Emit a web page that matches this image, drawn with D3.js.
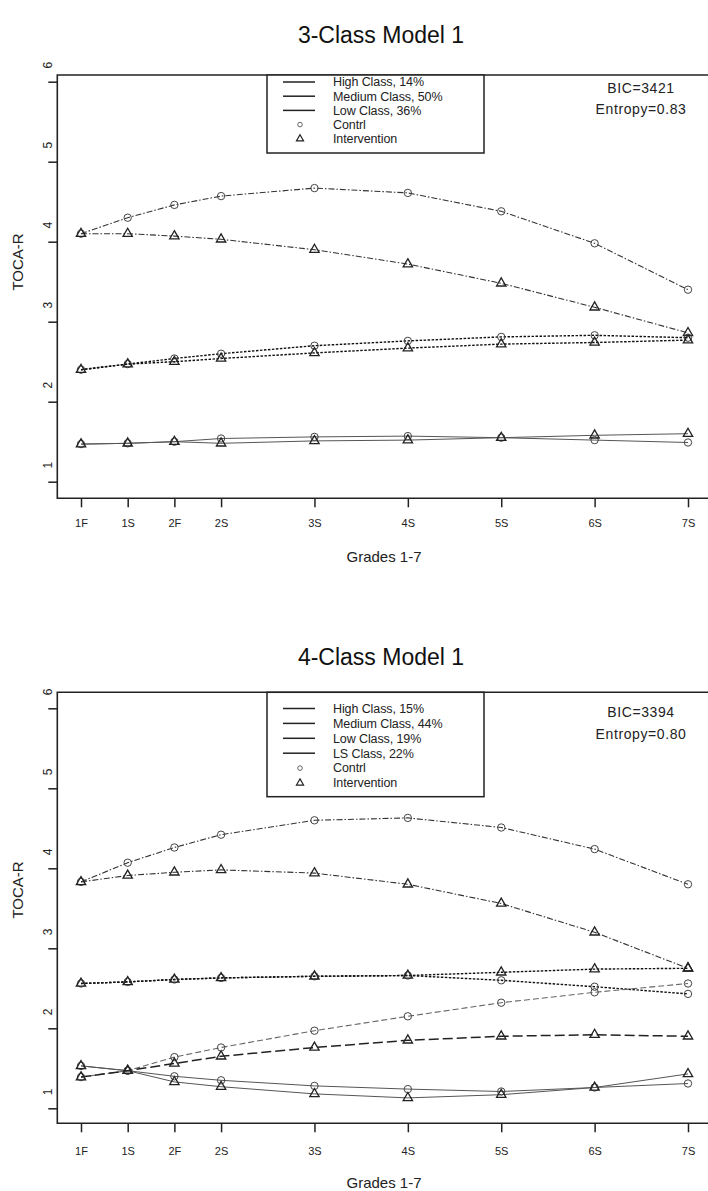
<!DOCTYPE html>
<html>
<head>
<meta charset="utf-8">
<script src="https://cdn.jsdelivr.net/npm/d3@7/dist/d3.min.js"></script>
<style>
  html, body { margin: 0; padding: 0; background: #ffffff; }
  svg { display: block; font-family: "Liberation Sans", Arial, sans-serif; }
</style>
</head>
<body>
<svg id="chart" width="708" height="1191"></svg>
<script>
// ---------------- DATA ----------------
const grades = ["1F", "1S", "2F", "2S", "3S", "4S", "5S", "6S", "7S"];
const gradeTimes = [0, 0.5, 1, 1.5, 2.5, 3.5, 4.5, 5.5, 6.5];
const yTicks = [1, 2, 3, 4, 5, 6];

// 3-Class Model 1
const m3Title = "3-Class Model 1";
const m3Classes = ["High Class, 14%", "Medium Class, 50%", "Low Class, 36%"];
const m3Stats = ["BIC=3421", "Entropy=0.83"];
const m3HighControl        = [4.10, 4.30, 4.46, 4.57, 4.67, 4.61, 4.38, 3.98, 3.40];
const m3HighIntervention   = [4.10, 4.10, 4.07, 4.03, 3.90, 3.72, 3.48, 3.18, 2.86];
const m3MediumControl      = [2.40, 2.47, 2.54, 2.60, 2.70, 2.76, 2.81, 2.83, 2.80];
const m3MediumIntervention = [2.40, 2.47, 2.50, 2.54, 2.61, 2.67, 2.72, 2.74, 2.77];
const m3LowControl         = [1.47, 1.48, 1.50, 1.54, 1.56, 1.57, 1.55, 1.52, 1.49];
const m3LowIntervention    = [1.47, 1.48, 1.50, 1.48, 1.51, 1.52, 1.55, 1.58, 1.60];

// 4-Class Model 1
const m4Title = "4-Class Model 1";
const m4Classes = ["High Class, 15%", "Medium Class, 44%", "Low Class, 19%", "LS Class, 22%"];
const m4Stats = ["BIC=3394", "Entropy=0.80"];
const m4HighControl        = [3.83, 4.07, 4.26, 4.42, 4.60, 4.63, 4.51, 4.24, 3.80];
const m4HighIntervention   = [3.83, 3.91, 3.95, 3.98, 3.94, 3.80, 3.56, 3.20, 2.75];
const m4MediumControl      = [2.56, 2.58, 2.61, 2.63, 2.65, 2.66, 2.60, 2.52, 2.43];
const m4MediumIntervention = [2.56, 2.58, 2.61, 2.63, 2.65, 2.66, 2.70, 2.74, 2.75];
const m4LowControl         = [1.53, 1.47, 1.40, 1.35, 1.28, 1.24, 1.21, 1.26, 1.31];
const m4LowIntervention    = [1.53, 1.47, 1.33, 1.27, 1.18, 1.13, 1.17, 1.26, 1.43];
const m4LsControl          = [1.39, 1.47, 1.64, 1.76, 1.97, 2.15, 2.32, 2.45, 2.56];
const m4LsIntervention     = [1.39, 1.47, 1.56, 1.65, 1.76, 1.85, 1.90, 1.92, 1.90];

const groupLabels = ["Contrl", "Intervention"];
const xTitle = "Grades 1-7";
const yTitle = "TOCA-R";

// ---------------- STYLES ----------------
const lineStyles = {
  high:   { dash: "6,2,1.5,2", color: "#333", width: 1.1 },
  medium: { dash: "2.5,1.5",   color: "#111", width: 1.4 },
  low:    { dash: null,        color: "#555", width: 1.0 },
  lsC:    { dash: "6,3",       color: "#666", width: 1.1 },
  lsI:    { dash: "10,4",      color: "#222", width: 1.5 }
};

const svg = d3.select("#chart");

function drawChart(cfg) {
  const g = svg.append("g");
  const x = d3.scaleLinear().domain([0, 6.5]).range([81, 688]);
  const y = d3.scaleLinear().domain([1, 6]).range(cfg.yRange);
  const left = 57.3;

  // title
  g.append("text").attr("x", 381).attr("y", cfg.titleY).attr("dy", "0.35em")
    .attr("text-anchor", "middle").attr("font-size", 23).attr("fill", "#111")
    .text(cfg.title);

  // frame (left, top, bottom; right side beyond page edge)
  g.append("path")
    .attr("d", `M714,${cfg.frameTop}H${left}V${cfg.frameBottom}H714`)
    .attr("fill", "none").attr("stroke", "#222").attr("stroke-width", 1.6);

  // y axis
  const ya = g.append("g").attr("transform", `translate(${left},0)`)
    .call(d3.axisLeft(y).tickValues(yTicks).tickSize(9).tickFormat(d3.format("d")));
  ya.select(".domain").remove();
  ya.selectAll(".tick line").attr("stroke", "#222").attr("stroke-width", 1.5);
  ya.selectAll(".tick text")
    .attr("x", 0).attr("y", 0).attr("dy", "0.35em")
    .attr("transform", "translate(-10,-17) rotate(-90)")
    .attr("text-anchor", "middle").attr("font-size", 12)
    .attr("font-family", "Liberation Sans, Arial, sans-serif").attr("fill", "#222");

  // x axis
  const xa = g.append("g").attr("transform", `translate(0,${cfg.frameBottom})`)
    .call(d3.axisBottom(x).tickValues(gradeTimes).tickSize(9)
      .tickFormat((d, i) => grades[i]));
  xa.select(".domain").remove();
  xa.selectAll(".tick line").attr("stroke", "#222").attr("stroke-width", 1.5);
  xa.selectAll(".tick text")
    .attr("y", cfg.tickLabelY - cfg.frameBottom).attr("dy", "0.35em")
    .attr("font-size", 11).attr("font-family", "Liberation Sans, Arial, sans-serif")
    .attr("fill", "#222");

  // axis titles
  g.append("text").attr("x", 384).attr("y", cfg.xTitleY).attr("dy", "0.35em")
    .attr("text-anchor", "middle").attr("font-size", 15).attr("fill", "#222")
    .text(xTitle);
  g.append("text").attr("transform", `translate(18,${cfg.yTitleY}) rotate(-90)`)
    .attr("dy", "0.35em").attr("text-anchor", "middle").attr("font-size", 15)
    .attr("fill", "#222").text(yTitle);

  // series lines
  const line = d3.line().x((d, i) => x(gradeTimes[i])).y(d => y(d));
  cfg.series.forEach(s => {
    const st = lineStyles[s.style];
    g.append("path").datum(s.values).attr("d", line)
      .attr("fill", "none").attr("stroke", st.color).attr("stroke-width", st.width)
      .attr("stroke-dasharray", st.dash);
  });
  // markers
  const tri = d3.symbol().type(d3.symbolTriangle).size(38);
  cfg.series.forEach(s => {
    const pts = g.append("g");
    s.values.forEach((v, i) => {
      if (s.marker === "circle") {
        pts.append("circle").attr("cx", x(gradeTimes[i])).attr("cy", y(v)).attr("r", 3.7)
          .attr("fill", "none").attr("stroke", "#444").attr("stroke-width", 1);
      } else {
        pts.append("path").attr("d", tri)
          .attr("transform", `translate(${x(gradeTimes[i])},${y(v)})`)
          .attr("fill", "none").attr("stroke", "#222").attr("stroke-width", 1.3);
      }
    });
  });

  // legend box
  const lb = cfg.legend;
  g.append("rect").attr("x", lb.x0).attr("y", lb.y0)
    .attr("width", lb.x1 - lb.x0).attr("height", lb.y1 - lb.y0)
    .attr("fill", "#fff").attr("stroke", "#222").attr("stroke-width", 1.5);
  const labels = cfg.classes.concat(groupLabels);
  labels.forEach((lab, i) => {
    const ry = lb.rowY + i * lb.step;
    if (i < cfg.classes.length) {
      g.append("line").attr("x1", 283).attr("x2", 315).attr("y1", ry).attr("y2", ry)
        .attr("stroke", "#222").attr("stroke-width", 1.5);
    } else if (i === cfg.classes.length) {
      g.append("circle").attr("cx", 300).attr("cy", ry).attr("r", 2.3)
        .attr("fill", "none").attr("stroke", "#555").attr("stroke-width", 0.9);
    } else {
      g.append("path").attr("d", d3.symbol().type(d3.symbolTriangle).size(22))
        .attr("transform", `translate(300,${ry})`)
        .attr("fill", "none").attr("stroke", "#222").attr("stroke-width", 1.2);
    }
    g.append("text").attr("x", 333).attr("y", ry).attr("dy", "0.35em")
      .attr("font-size", 12.5).attr("letter-spacing", -0.1).attr("fill", "#222").text(lab);
  });

  // statistics text
  cfg.stats.forEach((t, i) => {
    g.append("text").attr("x", 641).attr("y", cfg.statY[i]).attr("dy", "0.35em")
      .attr("text-anchor", "middle").attr("font-size", 14).attr("fill", "#222")
      .attr("letter-spacing", 0.6).text(t);
  });
}

drawChart({
  title: m3Title, titleY: 35,
  frameTop: 75, frameBottom: 498.3, yRange: [481.7, 81.7],
  tickLabelY: 522.7, xTitleY: 557, yTitleY: 262,
  legend: { x0: 267, y0: 75, x1: 484, y1: 153, rowY: 82, step: 14.2 },
  classes: m3Classes, stats: m3Stats, statY: [88.3, 109],
  series: [
    { values: m3HighControl, style: "high", marker: "circle" },
    { values: m3HighIntervention, style: "high", marker: "triangle" },
    { values: m3MediumControl, style: "medium", marker: "circle" },
    { values: m3MediumIntervention, style: "medium", marker: "triangle" },
    { values: m3LowControl, style: "low", marker: "circle" },
    { values: m3LowIntervention, style: "low", marker: "triangle" }
  ]
});

drawChart({
  title: m4Title, titleY: 656.7,
  frameTop: 692.3, frameBottom: 1123.3, yRange: [1108.3, 708.3],
  tickLabelY: 1151, xTitleY: 1182.7, yTitleY: 890,
  legend: { x0: 267, y0: 692.3, x1: 484, y1: 796.7, rowY: 708.5, step: 14.9 },
  classes: m4Classes, stats: m4Stats, statY: [711.7, 734],
  series: [
    { values: m4HighControl, style: "high", marker: "circle" },
    { values: m4HighIntervention, style: "high", marker: "triangle" },
    { values: m4MediumControl, style: "medium", marker: "circle" },
    { values: m4MediumIntervention, style: "medium", marker: "triangle" },
    { values: m4LowControl, style: "low", marker: "circle" },
    { values: m4LowIntervention, style: "low", marker: "triangle" },
    { values: m4LsControl, style: "lsC", marker: "circle" },
    { values: m4LsIntervention, style: "lsI", marker: "triangle" }
  ]
});
</script>
</body>
</html>
